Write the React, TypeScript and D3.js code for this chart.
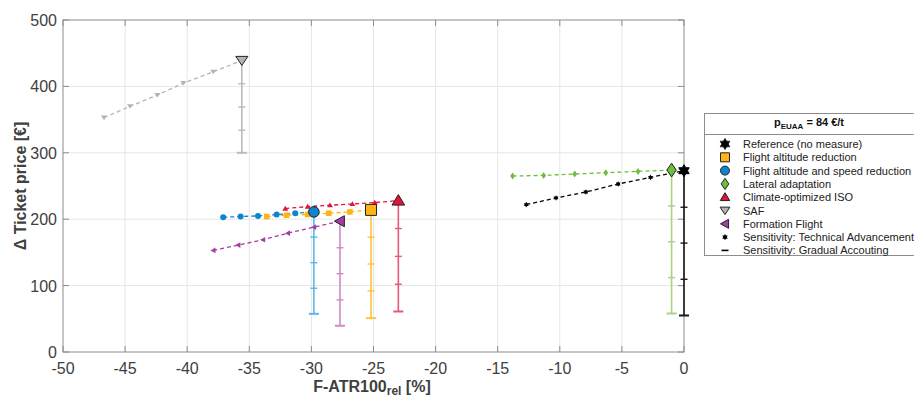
import React, { useEffect, useRef } from 'react';
import * as d3 from 'd3';

// main results per measure (x = F-ATR100 rel [%], y = delta ticket price [EUR])
const measures = [
  'Reference (no measure)',
  'Flight altitude reduction',
  'Flight altitude and speed reduction',
  'Lateral adaptation',
  'Climate-optimized ISO',
  'SAF',
  'Formation Flight',
];
const mainX = [0, -25.2, -29.8, -1.0, -23.0, -35.6, -27.7];
const mainY = [273, 214, 211, 274, 228, 439, 197];

// Sensitivity: technical advancement (x and y per measure)
const techX = [
  [-12.7, -10.3, -7.9, -5.3, -2.7],
  [-33.6, -32.0, -30.3, -28.6, -26.9],
  [-37.1, -35.7, -34.3, -32.8, -31.3],
  [-13.8, -11.3, -8.8, -6.3, -3.7],
  [-32.1, -30.3, -28.5, -26.7, -24.9],
  [-46.7, -44.6, -42.4, -40.3, -37.9],
  [-37.9, -35.9, -33.9, -31.9, -29.8],
];
const techY = [
  [222, 232, 241, 253, 263],
  [204, 206, 207, 209, 211],
  [203, 204, 205, 207, 209],
  [265, 266, 268, 270, 272],
  [216, 219, 221, 223, 225],
  [353, 370, 387, 405, 422],
  [153, 161, 169, 179, 188],
];

// Sensitivity: gradual accounting (price levels below the main point)
const gradualY = [
  [218, 164, 109.5, 55],
  [173, 132.5, 92, 51],
  [173, 134.5, 96, 57.5],
  [220, 166, 112, 58],
  [186, 144, 102, 61],
  [404, 369, 334, 300],
  [157, 118, 78.5, 39.5],
];

const xTicks = [-50, -45, -40, -35, -30, -25, -20, -15, -10, -5, 0];
const yTicks = [0, 100, 200, 300, 400, 500];

const shapes = ['hex', 'square', 'circle', 'diamond', 'triUp', 'triDown', 'triLeft'];
const colors = ['#000000', '#FDB515', '#0A86CF', '#6DBE3B', '#E1143C', '#B4B4B4', '#A43EA4'];
const barColors = ['#1a1a1a', '#FFC23A', '#5DB6E8', '#A6D480', '#E5587A', '#BBBBBB', '#CB8ACA'];

const markerPath = (shape: string, s: number) => {
  switch (shape) {
    case 'circle':
      return d3.symbol(d3.symbolCircle, Math.PI * s * s)();
    case 'square':
      return `M${-s},${-s}H${s}V${s}H${-s}Z`;
    case 'diamond':
      return `M0,${-s * 1.25}L${s * 0.85},0L0,${s * 1.25}L${-s * 0.85},0Z`;
    case 'triUp':
      return `M0,${-s}L${s * 1.05},${s * 0.75}L${-s * 1.05},${s * 0.75}Z`;
    case 'triDown':
      return `M0,${s * 0.9}L${s * 1.1},${-s * 0.75}L${-s * 1.1},${-s * 0.75}Z`;
    case 'triLeft':
      return `M${-s},0L${s * 0.8},${-s}L${s * 0.8},${s}Z`;
    default: {
      // hexagram
      const pts = d3.range(12).map(k => {
        const a = (k * 30 - 90) * Math.PI / 180;
        const r = k % 2 === 0 ? s : s / Math.sqrt(3);
        return [r * Math.cos(a), r * Math.sin(a)];
      });
      return 'M' + pts.map(p => p.join(',')).join('L') + 'Z';
    }
  }
};

const Chart = ({ width = 914, height = 398 }) => {
  const svgRef = useRef<SVGSVGElement>(null);

  useEffect(() => {
    const svg = d3.select(svgRef.current);
    svg.selectAll('*').remove();

    const left = 63, right = 684, top = 20, bottom = 352;
    const font = '"Liberation Sans", Arial, sans-serif';

    const x = d3.scaleLinear().domain([-50, 0]).range([left, right]);
    const y = d3.scaleLinear().domain([0, 500]).range([bottom, top]);

    svg.append('rect').attr('width', width).attr('height', height).attr('fill', '#fff');

    // grid
    const grid = svg.append('g').attr('stroke', '#e6e6e6').attr('stroke-width', 1);
    xTicks.slice(1, -1).forEach(t => {
      grid.append('line').attr('x1', x(t)).attr('x2', x(t)).attr('y1', top).attr('y2', bottom);
    });
    yTicks.slice(1, -1).forEach(t => {
      grid.append('line').attr('x1', left).attr('x2', right).attr('y1', y(t)).attr('y2', y(t));
    });

    // axes box with inward ticks
    const ax = svg.append('g').attr('stroke', '#8c8c8c').attr('stroke-width', 1).attr('fill', 'none');
    ax.append('rect').attr('x', left).attr('y', top).attr('width', right - left).attr('height', bottom - top);
    xTicks.forEach(t => {
      ax.append('line').attr('x1', x(t)).attr('x2', x(t)).attr('y1', bottom).attr('y2', bottom - 6);
      ax.append('line').attr('x1', x(t)).attr('x2', x(t)).attr('y1', top).attr('y2', top + 6);
    });
    yTicks.forEach(t => {
      ax.append('line').attr('x1', left).attr('x2', left + 6).attr('y1', y(t)).attr('y2', y(t));
      ax.append('line').attr('x1', right).attr('x2', right - 6).attr('y1', y(t)).attr('y2', y(t));
    });

    // tick labels
    svg.append('g')
      .selectAll('text')
      .data(xTicks)
      .enter().append('text')
      .attr('x', d => x(d))
      .attr('y', bottom + 21.5)
      .attr('text-anchor', 'middle')
      .attr('font-family', font)
      .attr('font-size', 16)
      .attr('fill', '#404040')
      .text(d => d);

    svg.append('g')
      .selectAll('text')
      .data(yTicks)
      .enter().append('text')
      .attr('x', left - 6)
      .attr('y', d => y(d) + 6)
      .attr('text-anchor', 'end')
      .attr('font-family', font)
      .attr('font-size', 16)
      .attr('fill', '#404040')
      .text(d => d);

    // axis labels
    const xl = svg.append('text')
      .attr('x', 372)
      .attr('y', 392)
      .attr('text-anchor', 'middle')
      .attr('font-family', font)
      .attr('font-size', 16)
      .attr('font-weight', 'bold')
      .attr('fill', '#404040');
    xl.append('tspan').text('F-ATR100');
    xl.append('tspan').attr('font-size', 12).attr('dy', 3).text('rel');
    xl.append('tspan').attr('dy', -3).text(' [%]');

    svg.append('text')
      .attr('transform', `translate(26,${(top + bottom) / 2}) rotate(-90)`)
      .attr('text-anchor', 'middle')
      .attr('font-family', font)
      .attr('font-size', 16)
      .attr('font-weight', 'bold')
      .attr('fill', '#404040')
      .text('Δ Ticket price [€]');

    // gradual accounting error bars
    const bars = svg.append('g');
    measures.forEach((m, i) => {
      const g = bars.append('g').attr('stroke', barColors[i]).attr('stroke-width', 1.6);
      const px = x(mainX[i]);
      const lows = gradualY[i];
      g.append('line').attr('x1', px).attr('x2', px).attr('y1', y(mainY[i])).attr('y2', y(lows[lows.length - 1]));
      lows.forEach((v, k) => {
        const w = k === lows.length - 1 ? 5 : 3.5;
        g.append('line').attr('x1', px - w).attr('x2', px + w).attr('y1', y(v)).attr('y2', y(v))
          .attr('stroke-width', k === lows.length - 1 ? 2 : 1.4);
      });
    });

    // technical advancement dashed lines
    const line = d3.line<[number, number]>().x(d => x(d[0])).y(d => y(d[1]));
    measures.forEach((m, i) => {
      const pts: [number, number][] = techX[i].map((v, k) => [v, techY[i][k]]);
      pts.push([mainX[i], mainY[i]]);
      svg.append('path')
        .attr('d', line(pts))
        .attr('fill', 'none')
        .attr('stroke', colors[i])
        .attr('stroke-width', 1.3)
        .attr('stroke-dasharray', '4,3');
    });

    // small sensitivity markers
    measures.forEach((m, i) => {
      svg.append('g')
        .selectAll('path')
        .data(techX[i].map((v, k) => [v, techY[i][k]]))
        .enter().append('path')
        .attr('transform', d => `translate(${x(d[0])},${y(d[1])})`)
        .attr('d', markerPath(shapes[i], i === 2 ? 3 : 2.8))
        .attr('fill', colors[i]);
    });

    // main markers
    measures.forEach((m, i) => {
      svg.append('path')
        .attr('transform', `translate(${x(mainX[i])},${y(mainY[i])})`)
        .attr('d', markerPath(shapes[i], i === 0 ? 6 : i === 2 ? 5.3 : i === 4 ? 6 : 5.5))
        .attr('fill', colors[i])
        .attr('stroke', i === 0 ? '#000' : '#222')
        .attr('stroke-width', 1);
    });

    // legend
    const lg = svg.append('g');
    lg.append('rect')
      .attr('x', 704.5).attr('y', 113.5).attr('width', 220).attr('height', 142)
      .attr('fill', '#fff').attr('stroke', '#8c8c8c');
    lg.append('line').attr('x1', 704.5).attr('x2', 924).attr('y1', 134.5).attr('y2', 134.5).attr('stroke', '#8c8c8c');
    const title = lg.append('text')
      .attr('x', 809).attr('y', 126)
      .attr('text-anchor', 'middle')
      .attr('font-family', font)
      .attr('font-size', 11)
      .attr('font-weight', 'bold')
      .attr('fill', '#111');
    title.append('tspan').text('p');
    title.append('tspan').attr('font-size', 8).attr('dy', 3).text('EUAA');
    title.append('tspan').attr('dy', -3).text(' = 84 €/t');

    const entries = measures.concat(['Sensitivity: Technical Advancement', 'Sensitivity: Gradual Accouting']);
    entries.forEach((label, i) => {
      const ly = 144 + i * 13.3;
      if (i < measures.length) {
        lg.append('path')
          .attr('transform', `translate(725,${ly})`)
          .attr('d', markerPath(shapes[i], i === 0 ? 5.5 : 4.5))
          .attr('fill', colors[i])
          .attr('stroke', '#222')
          .attr('stroke-width', 1);
      } else if (i === measures.length) {
        lg.append('path')
          .attr('transform', `translate(725,${ly})`)
          .attr('d', markerPath('hex', 3.2))
          .attr('fill', '#000');
      } else {
        lg.append('line')
          .attr('x1', 721.5).attr('x2', 728.5).attr('y1', ly).attr('y2', ly)
          .attr('stroke', '#000').attr('stroke-width', 1.6);
      }
      lg.append('text')
        .attr('x', 743)
        .attr('y', ly + 4)
        .attr('font-family', font)
        .attr('font-size', 11)
        .attr('fill', '#222')
        .text(label);
    });
  }, [width, height]);

  return (
    <svg
      ref={svgRef}
      width={width}
      height={height}
      style={{ position: 'absolute', left: 0, top: 0, display: 'block' }}
    ></svg>
  );
};

export default function App() {
  return <Chart />;
}
